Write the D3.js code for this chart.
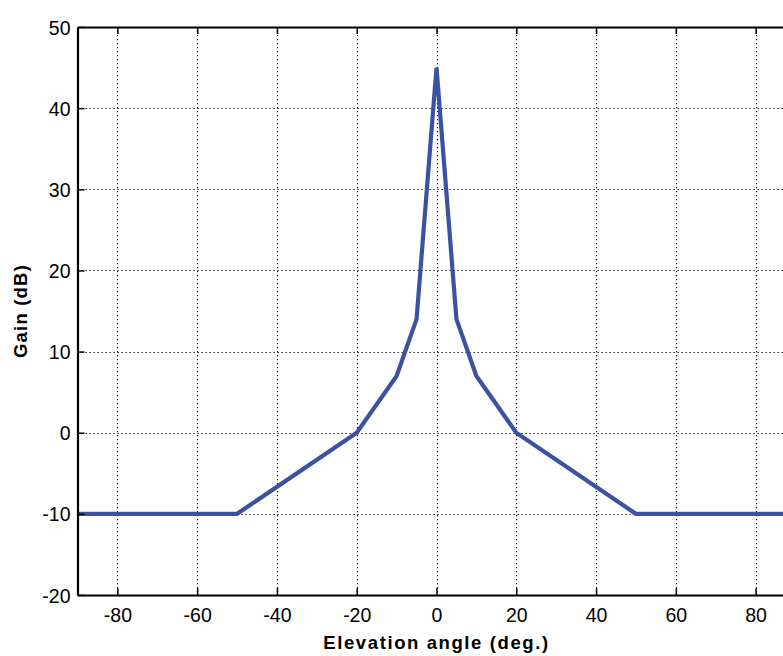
<!DOCTYPE html>
<html><head><meta charset="utf-8">
<script src="https://cdn.jsdelivr.net/npm/d3@7"></script>
<style>
html,body{margin:0;padding:0;background:#fff;}
svg{display:block;}
</style></head>
<body>
<script>
const angles = [-90, -50, -20, -10, -5, 0, 5, 10, 20, 50, 90];
const gains  = [-10, -10, 0, 7, 14, 45, 14, 7, 0, -10, -10];
const xTicks = [-80, -60, -40, -20, 0, 20, 40, 60, 80];
const yTicks = [-20, -10, 0, 10, 20, 30, 40, 50];
const xLabel = "Elevation angle (deg.)";
const yLabel = "Gain (dB)";

const W = 783, H = 656;
const m = {left: 77.5, top: 27, right: 795.5, bottom: 595};
const svg = d3.select("body").append("svg").attr("width", W).attr("height", H);
const x = d3.scaleLinear().domain([-90, 90]).range([m.left, m.right]);
const y = d3.scaleLinear().domain([-20, 50]).range([m.bottom, m.top]);

const font = "'Liberation Sans', Arial, Helvetica, sans-serif";

// grid
const grid = svg.append("g").attr("stroke", "#000").attr("stroke-width", 1.2).attr("stroke-dasharray", "1.3,2.7");
grid.selectAll("line.vx").data(xTicks).join("line")
  .attr("x1", d => Math.round(x(d)) + 0.5).attr("x2", d => Math.round(x(d)) + 0.5)
  .attr("y1", m.top).attr("y2", m.bottom);
grid.selectAll("line.hy").data(yTicks.filter(d => d > -20 && d < 50)).join("line")
  .attr("y1", d => Math.round(y(d)) + 0.5).attr("y2", d => Math.round(y(d)) + 0.5)
  .attr("x1", m.left).attr("x2", m.right);

// line
svg.append("path").datum(angles.map((a, i) => [a, gains[i]]))
  .attr("fill", "none").attr("stroke", "#3b52a3").attr("stroke-width", 4.2)
  .attr("stroke-linejoin", "miter")
  .attr("d", d3.line().x(d => x(d[0])).y(d => y(d[1])));

const fmt = d => String(d);
// axes
const xAxis = svg.append("g").attr("transform", `translate(0,${m.bottom})`)
  .call(d3.axisBottom(x).tickValues(xTicks).tickSizeInner(-7).tickSizeOuter(0).tickFormat(fmt));
const xAxisTop = svg.append("g").attr("transform", `translate(0,${m.top})`)
  .call(d3.axisTop(x).tickValues(xTicks).tickSizeInner(-7).tickSizeOuter(0).tickFormat(""));
const yAxis = svg.append("g").attr("transform", `translate(${m.left},0)`)
  .call(d3.axisLeft(y).tickValues(yTicks).tickSizeInner(-7).tickSizeOuter(0).tickFormat(fmt));

[xAxis, xAxisTop, yAxis].forEach(g => {
  g.select(".domain").attr("stroke", "#000").attr("stroke-width", 2.2);
  g.selectAll(".tick line").attr("stroke", "#000").attr("stroke-width", 1.5);
  g.selectAll(".tick text").attr("fill", "#000").attr("font-family", font).attr("font-size", 19.5);
});
xAxis.selectAll(".tick text").attr("dy", null).attr("y", 27);
yAxis.selectAll(".tick text").attr("x", -7).attr("dy", "0.36em");

// labels
svg.append("text").attr("x", x(0)).attr("y", 649).attr("text-anchor", "middle")
  .attr("font-family", font).attr("font-weight", "bold").attr("font-size", 18.5)
  .attr("letter-spacing", 1.6)
  .text(xLabel);
svg.append("text").attr("transform", `translate(27,${y(15)}) rotate(-90)`).attr("text-anchor", "middle")
  .attr("font-family", font).attr("font-weight", "bold").attr("font-size", 18.5)
  .attr("letter-spacing", 1.2)
  .text(yLabel);
</script>
</body></html>
